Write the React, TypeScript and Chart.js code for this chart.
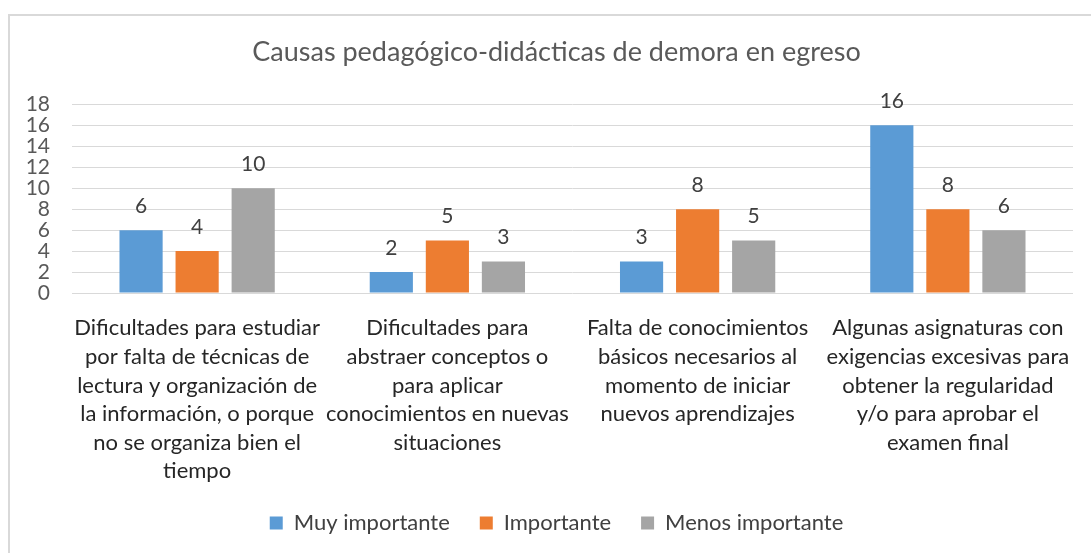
import React, { useEffect, useRef } from "react";
import { Chart, registerables } from "chart.js";

Chart.register(...registerables);

const chartTitle = "Causas pedagógico-didácticas de demora en egreso";

const categories: string[][] = [
  [
    "Dificultades para estudiar",
    "por falta de técnicas de",
    "lectura y organización de",
    "la información, o porque",
    "no se organiza bien el",
    "tiempo",
  ],
  [
    "Dificultades para",
    "abstraer conceptos o",
    "para aplicar",
    "conocimientos en nuevas",
    "situaciones",
  ],
  [
    "Falta de conocimientos",
    "básicos necesarios al",
    "momento de iniciar",
    "nuevos aprendizajes",
  ],
  [
    "Algunas asignaturas con",
    "exigencias excesivas para",
    "obtener la regularidad",
    "y/o para aprobar el",
    "examen final",
  ],
];

const seriesNames = ["Muy importante", "Importante", "Menos importante"];
const muyImportante = [6, 2, 3, 16];
const importante = [4, 5, 8, 8];
const menosImportante = [10, 3, 5, 6];
const seriesColors = ["#5B9BD5", "#ED7D31", "#A5A5A5"];

const yMin = 0;
const yMax = 18;
const yStep = 2;

const FONT = "Lato";

const dataLabelPlugin = {
  id: "dataLabels",
  afterDatasetsDraw(chart: any) {
    const ctx = chart.ctx;
    ctx.save();
    ctx.font = `21px ${FONT}`;
    ctx.fillStyle = "#404040";
    ctx.textAlign = "center";
    ctx.textBaseline = "middle";
    chart.data.datasets.forEach((ds: any, i: number) => {
      const meta = chart.getDatasetMeta(i);
      meta.data.forEach((bar: any, j: number) => {
        ctx.fillText(String(ds.data[j]), bar.x, bar.y - 24);
      });
    });
    ctx.restore();
  },
};

export default function App() {
  const ref = useRef<HTMLCanvasElement | null>(null);

  useEffect(() => {
    if (!ref.current) return;
    Chart.defaults.font.family = FONT;
    const values = [muyImportante, importante, menosImportante];
    const chart = new Chart(ref.current, {
      type: "bar",
      data: {
        labels: categories,
        datasets: seriesNames.map((name, i) => ({
          label: name,
          data: values[i],
          backgroundColor: seriesColors[i],
          borderWidth: 0,
          categoryPercentage: 0.672,
          barPercentage: 0.77,
        })),
      },
      options: {
        animation: false,
        responsive: false,
        devicePixelRatio: 1,
        layout: { padding: { left: 30, right: 18, top: 0, bottom: 9 } },
        plugins: {
          title: {
            display: true,
            text: chartTitle,
            color: "#595959",
            font: { size: 27, weight: "normal", family: FONT, lineHeight: 1.2 },
            padding: { top: 20, bottom: 36 },
          },
          legend: {
            position: "bottom",
            labels: {
              boxWidth: 13,
              boxHeight: 13,
              padding: 30,
              color: "#404040",
              font: { size: 22, family: FONT },
            },
          },
          tooltip: { enabled: false },
        },
        scales: {
          x: {
            grid: { display: false },
            border: { display: false },
            ticks: {
              color: "#262626",
              font: { size: 22, family: FONT, lineHeight: 1.3 },
              padding: 13,
              maxRotation: 0,
              autoSkip: false,
            },
            afterFit: (s: any) => {
              s.height = 189;
            },
          },
          y: {
            min: yMin,
            max: yMax,
            grid: { color: "#D9D9D9", lineWidth: 1, drawTicks: false },
            border: { display: false },
            ticks: {
              stepSize: yStep,
              autoSkip: false,
              color: "#595959",
              font: { size: 21, family: FONT },
              padding: 22,
            },
            afterFit: (s: any) => {
              s.width = 32;
              s._computeLabelArea = () => undefined;
            },
          },
        },
      },
      plugins: [dataLabelPlugin],
    });
    return () => chart.destroy();
  }, []);

  return (
    <div
      style={{
        position: "fixed",
        left: 8,
        top: 14,
        width: 1100,
        height: 560,
        borderLeft: "2px solid #D9D9D9",
        borderTop: "2px solid #D9D9D9",
        background: "#fff",
      }}
    >
      <canvas ref={ref} width={1081} height={537} style={{ display: "block" }} />
    </div>
  );
}
